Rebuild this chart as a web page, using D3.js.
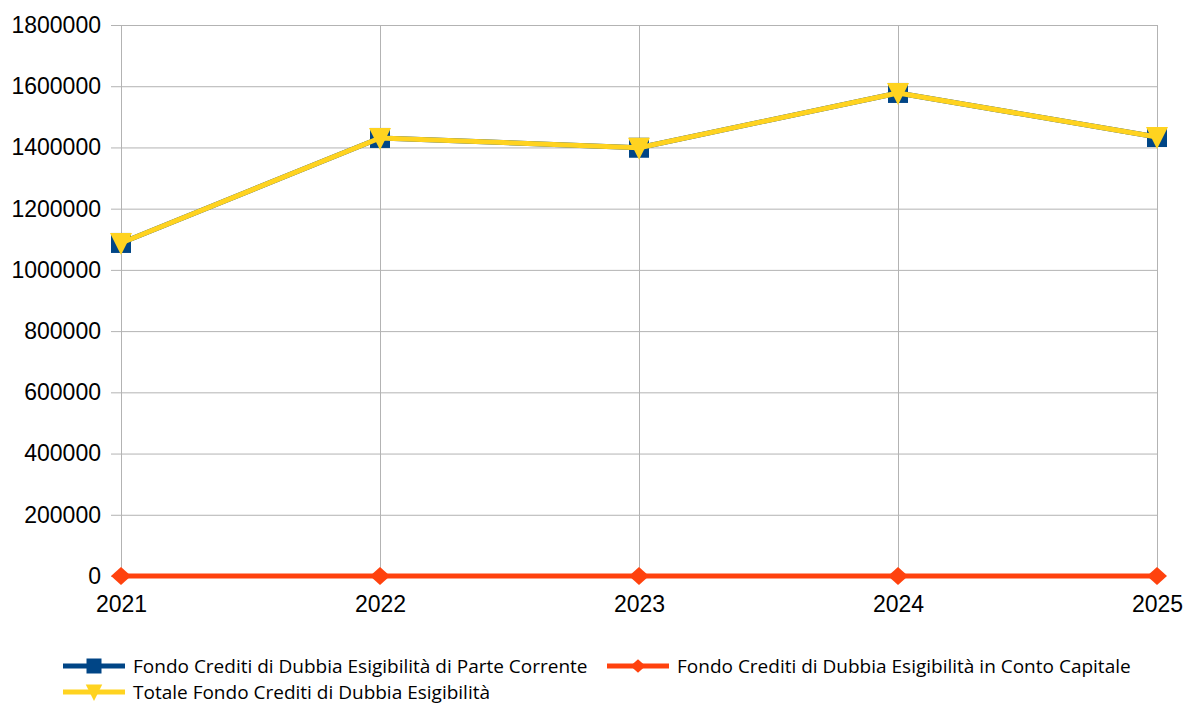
<!DOCTYPE html>
<html>
<head>
<meta charset="utf-8">
<script src="https://cdn.jsdelivr.net/npm/d3@7"></script>
<style>
  body { margin: 0; background: #fff; }
  text { font-family: "Liberation Sans", Arial, sans-serif; fill: #000; }
</style>
</head>
<body>
<div id="chart"></div>
<script>
// data
var years = ["2021", "2022", "2023", "2024", "2025"];
var parteCorrente = [1088000, 1431000, 1399000, 1578000, 1434000];
var contoCapitale = [0, 0, 0, 0, 0];
var totale = [1088000, 1431000, 1399000, 1578000, 1434000];
var yTicks = [0, 200000, 400000, 600000, 800000, 1000000, 1200000, 1400000, 1600000, 1800000];

var seriesNames = [
    "Fondo Crediti di Dubbia Esigibilità di Parte Corrente",
    "Fondo Crediti di Dubbia Esigibilità in Conto Capitale",
    "Totale Fondo Crediti di Dubbia Esigibilità"
];

var width = 1184, height = 706;
var margin = {top: 25, right: 27, bottom: 130, left: 121};

var svg = d3.select("#chart").append("svg")
    .attr("width", width)
    .attr("height", height);

var x = d3.scalePoint()
    .domain(years)
    .range([margin.left, width - margin.right]);

var y = d3.scaleLinear()
    .domain([0, 1800000])
    .range([height - margin.bottom, margin.top]);

// horizontal grid + y ticks
svg.append("g")
    .attr("transform", "translate(" + margin.left + ",0)")
    .call(d3.axisLeft(y).tickValues(yTicks).tickFormat(d3.format("d"))
        .tickSize(-(width - margin.left - margin.right)).tickPadding(20))
    .call(function (g) {
        g.select(".domain").remove();
        g.selectAll(".tick line").attr("stroke", "#b3b3b3").attr("x1", -10);
        g.selectAll(".tick text").style("font-size", "23px");
    });

// vertical grid + x labels
svg.append("g")
    .attr("transform", "translate(0," + (height - margin.bottom) + ")")
    .call(d3.axisBottom(x).tickSize(-(height - margin.top - margin.bottom)).tickPadding(20))
    .call(function (g) {
        g.select(".domain").remove();
        g.selectAll(".tick line").attr("stroke", "#b3b3b3");
        g.selectAll(".tick text").style("font-size", "23px");
    });

var series = [
    {name: seriesNames[0], values: parteCorrente, color: "#004586", marker: "square"},
    {name: seriesNames[1], values: contoCapitale, color: "#ff420e", marker: "diamond"},
    {name: seriesNames[2], values: totale, color: "#ffd320", marker: "triangle"}
];

function markerPath(type) {
    if (type === "square") return "M-10,-10H10V10H-10Z";
    if (type === "diamond") return "M-10,0L0,-9L10,0L0,9Z";
    return "M-11,-10H11L0,12Z";
}

var line = d3.line()
    .x(function (d, i) { return x(years[i]); })
    .y(function (d) { return y(d); });

series.forEach(function (s) {
    var g = svg.append("g");
    g.append("path")
        .attr("d", line(s.values))
        .attr("fill", "none")
        .attr("stroke", s.color)
        .attr("stroke-width", 5)
        .attr("stroke-linejoin", "round");
    g.selectAll("path.mk")
        .data(s.values)
        .enter()
        .append("path")
        .attr("class", "mk")
        .attr("transform", function (d, i) {
            return "translate(" + x(years[i]) + "," + y(d) + ")";
        })
        .attr("d", markerPath(s.marker))
        .attr("fill", s.color);
});

// legend
var legendPos = [
    {x: 63, y: 666},
    {x: 607, y: 666},
    {x: 63, y: 692}
];

series.forEach(function (s, i) {
    var lg = svg.append("g")
        .attr("transform", "translate(" + legendPos[i].x + "," + legendPos[i].y + ")");
    lg.append("line")
        .attr("x1", 0).attr("x2", 62)
        .attr("stroke", s.color)
        .attr("stroke-width", 5);
    lg.append("path")
        .attr("transform", "translate(31,0) scale(0.75)")
        .attr("d", markerPath(s.marker))
        .attr("fill", s.color);
    lg.append("text")
        .attr("x", 70)
        .attr("dy", "0.35em")
        .style("font-family", "'Open Sans', sans-serif")
        .style("font-size", "19px")
        .text(s.name);
});
</script>
</body>
</html>
